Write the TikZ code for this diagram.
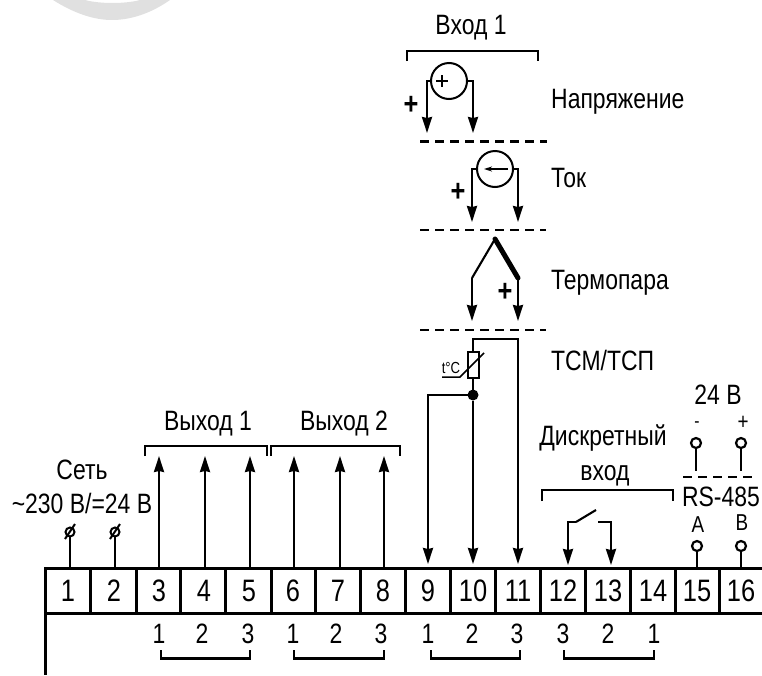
\documentclass[tikz,border=0pt]{standalone}
\usepackage{fontspec}
\setmainfont[FakeStretch=0.82]{Liberation Sans}
\usetikzlibrary{arrows.meta}
\tikzset{
  x=1pt,y=-1pt,
  wire/.style={line width=2.1pt,draw=black},
  arr/.style={wire,-{Stealth[length=16pt,width=10pt,inset=1pt]}},
  brk/.style={line width=2.6pt,draw=black},
  cell/.style={draw=black,line width=3pt,minimum width=45pt,minimum height=45pt,inner sep=0pt,outer sep=0pt},
  txt/.style={inner sep=0pt,font=\fontsize{28}{28}\selectfont},
  lft/.style={txt,anchor=west},
  num/.style={inner sep=0pt,font=\fontsize{31}{31}\selectfont},
  small/.style={inner sep=0pt,font=\fontsize{23}{23}\selectfont},
  sep/.style={line width=2.2pt,draw=black,dash pattern=on 9pt off 6pt},
  meter/.style={circle,draw=black,line width=2pt,minimum size=36pt,inner sep=0pt,outer sep=0pt},
  term/.style={circle,draw=black,line width=2.2pt,fill=white,minimum size=10pt,inner sep=0pt,outer sep=0pt},
  bold plus/.style={inner sep=0pt,font=\bfseries\fontsize{31}{31}\selectfont},
}
\begin{document}
\begin{tikzpicture}
\useasboundingbox (0,0) rectangle (762,675);
\clip (0,0) rectangle (762,675);
\fill[black!12] (53,0) .. controls (75,14) and (95,20) .. (112,20) .. controls (130,20) and (150,14) .. (170,0) -- (140,0) .. controls (125,4) and (100,4) .. (85,0) -- cycle;
% terminal strip
\foreach \n/\a/\b in {1/45/90,2/90/136,3/136/180,4/180/225,5/225/271,6/271/315,7/315/360,8/360/405,9/405/450,10/450/495,11/495/540,12/540/585,13/585/630,14/630/675,15/675/719,16/719/780}{
  \pgfmathsetmacro{\cx}{(\a+\b)/2}
  \pgfmathsetmacro{\cw}{\b-\a}
  \node[cell,minimum width=\cw pt] (c\n) at (\cx,590.5) {};
}
\foreach \n/\x in {1/68,2/114,3/159,4/204,5/249,6/293,7/338,8/383,9/428,10/473,11/518,12/563,13/608,14/653,15/697,16/741}{
  \node[num] (l\n) at (\x,591) {\n};
}
\coordinate (railA) at (45,613);
\coordinate (railB) at (45,675);
\draw[line width=3pt] (railA) -- (railB);
% bottom numbers
\foreach \n/\t/\x in {a/1/159,b/2/202,c/3/248,d/1/293,e/2/336,f/3/381,g/1/428,h/2/472,i/3/517,j/3/563,k/2/608,m/1/654}{
  \node[num,font=\fontsize{28}{28}\selectfont] (n\n) at (\x,634) {\t};
}
\foreach \n/\a/\b in {p/161/250,q/294/384,r/431/520,s/564/654}{
  \coordinate (\n1) at (\a,650); \coordinate (\n2) at (\a,658.5);
  \coordinate (\n3) at (\b,658.5); \coordinate (\n4) at (\b,650);
  \draw[brk] (\n1) -- (\n2) -- (\n3) -- (\n4);
}
% power
\node[txt] (set) at (82,470) {Сеть};
\node[txt] (volt) at (82,503) {\textasciitilde 230 В/=24 В};
\foreach \n/\x in {1/70,2/115}{
  \node[circle,draw=black,line width=2pt,minimum width=9pt,minimum height=9pt,inner sep=0pt,outer sep=0pt] (p\n) at (\x,532) {};
  \draw[line width=2pt] (\x-5,539) -- (\x+5,524);
  \draw[wire] (p\n.south) -- (\x,567);
}
% outputs
\foreach \n/\x in {3/159,4/205,5/250,6/294,7/340,8/384}{
  \coordinate (o\n) at (\x,456);
  \draw[arr] (\x,567) -- (o\n);
}
\node[txt] (out1) at (208,424) {Выход 1};
\node[txt] (out2) at (344,424) {Выход 2};
\draw[brk] (145,456) -- (145,446) -- (267,446) -- (267,456);
\draw[brk] (271,456) -- (271,446) -- (400,446) -- (400,456);
% input heading
\node[txt] (in1) at (471,28) {Вход 1};
\draw[brk] (407,61) -- (407,51) -- (538,51) -- (538,61);
% voltage
\node[meter] (mv) at (449,81) {};
\draw[arr] (mv.west) -- (427,81) -- (427,133);
\draw[arr] (mv.east) -- (473,81) -- (473,133);
\draw[line width=1.2pt] (436,81) -- (448,81) (442,75) -- (442,87);
\node[bold plus] (pv) at (411,105) {+};
\node[lft] (tv) at (551,102) {Напряжение};
\draw[sep] (420,141.5) -- (547,141.5);
% current
\node[meter] (mc) at (495,169) {};
\draw[arr] (mc.west) -- (472,169) -- (472,222);
\draw[arr] (mc.east) -- (518,169) -- (518,222);
\draw[line width=1.4pt,-{Stealth[length=8pt,width=5pt]}] (508,169) -- (484,169);
\node[bold plus] (pc) at (458,192) {+};
\node[lft] (tc) at (551,178) {Ток};
\draw[sep] (420,230) -- (546,230);
% thermocouple
\coordinate (apex) at (495,239);
\coordinate (tl) at (472,278);
\coordinate (tr) at (518,278);
\draw[wire] (apex) -- (tl);
\draw[line width=5pt,line cap=round] (apex) -- (tr);
\draw[arr] (tl) -- (472,321);
\draw[arr] (tr) -- (518,321);
\node[bold plus] (pt) at (505,292) {+};
\node[lft] (tt) at (551,283) {Термопара};
\draw[sep] (420,330) -- (546,330);
% RTD
\node[draw=black,line width=2pt,fill=white,minimum width=11pt,minimum height=26pt,inner sep=0pt,outer sep=0pt] (rtd) at (473,365) {};
\node[circle,fill=black,minimum size=11pt,inner sep=0pt,outer sep=0pt] (jn) at (473,395) {};
\draw[wire] (rtd.north) -- (473,339) -- (518,339) -- (518,350);
\draw[arr] (518,345) -- (518,564);
\draw[wire] (rtd.south) -- (jn);
\draw[arr] (jn) -- (473,564);
\draw[arr] (jn) -- (428,395) -- (428,564);
\draw[line width=1.5pt] (442,377) -- (460,377) -- (484,353);
\node[inner sep=0pt,font=\fontsize{16}{16}\selectfont] (tdeg) at (451,368) {t°C};
\node[lft] (trtd) at (551,360) {ТСМ/ТСП};
% discrete input
\node[txt] (d1) at (603,438) {Дискретный};
\node[txt] (d2) at (605,476) {вход};
\draw[brk] (542,501) -- (542,490) -- (673,490) -- (673,501);
\draw[arr] (576,522) -- (568,522) -- (568,565);
\draw[arr] (598,522) -- (611,522) -- (611,565);
\draw[wire] (576,522) -- (596,510);
% RS-485
\node[txt] (v24) at (718,395) {24 В};
\node[small,font=\fontsize{19}{19}\selectfont] (mn) at (697,425) {-};
\node[small] (pl) at (743,423) {+};
\node[term] (t1) at (696,443) {};
\node[term] (t2) at (741,443) {};
\draw[wire] (t1) -- (696,471);
\draw[wire] (t2) -- (741,471);
\draw[sep] (683,477) -- (757,477);
\node[txt] (rs) at (721,497) {RS-485};
\node[small] (aa) at (698,525) {A};
\node[small] (bb) at (742,523) {B};
\node[term] (t3) at (697,546) {};
\node[term] (t4) at (741,546) {};
\draw[wire] (t3) -- (697,567);
\draw[wire] (t4) -- (741,567);
\end{tikzpicture}
\end{document}
